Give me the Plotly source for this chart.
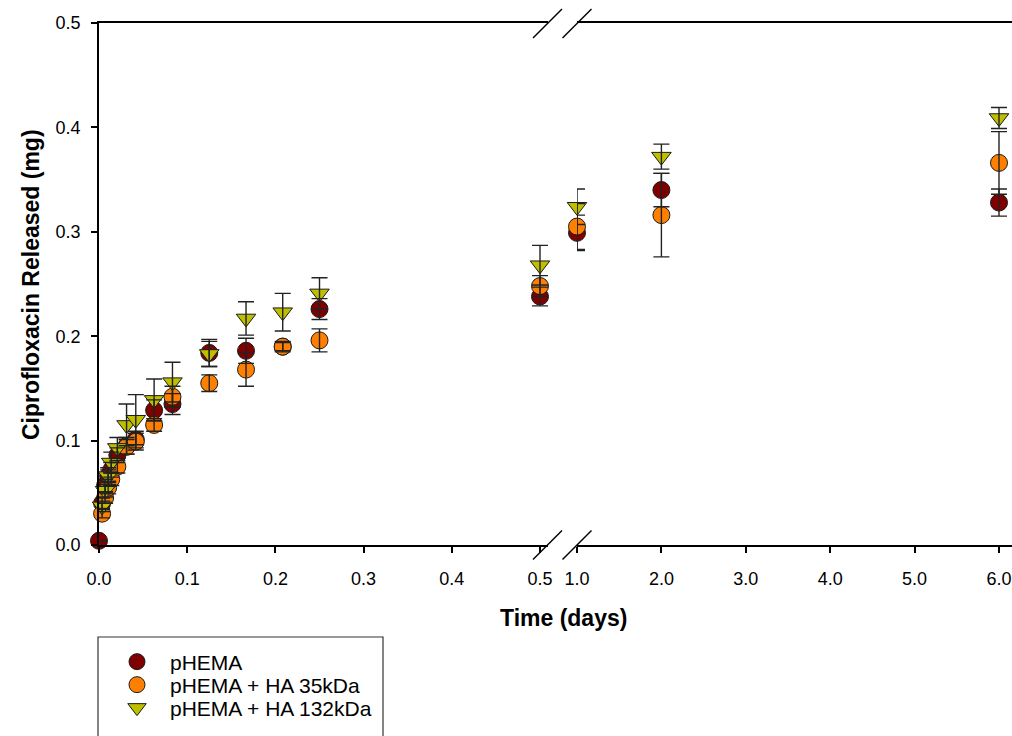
import numpy as np
import plotly.graph_objects as go

# Sampling times (days)
time_days = [0.0, 0.0035, 0.0069, 0.0104, 0.0139, 0.0208, 0.03125, 0.0417, 0.0625,
             0.0833, 0.125, 0.1667, 0.2083, 0.25, 0.5, 1.0, 2.0, 6.0]

# Cumulative ciprofloxacin released (mg) and standard deviations
phema = [0.004, 0.040, 0.057, 0.066, 0.072, 0.086, 0.095, 0.101, 0.129,
         0.135, 0.184, 0.186, 0.190, 0.226, 0.238, 0.299, 0.340, 0.328]
phema_sd = [0.000, 0.005, 0.006, 0.006, 0.007, 0.007, 0.008, 0.008, 0.010,
            0.010, 0.013, 0.012, 0.005, 0.010, 0.009, 0.017, 0.016, 0.013]

ha35 = [None, 0.030, 0.045, 0.055, 0.063, 0.075, 0.094, 0.099, 0.115,
        0.142, 0.155, 0.168, 0.190, 0.196, 0.248, 0.305, 0.316, 0.366]
ha35_sd = [None, 0.004, 0.005, 0.006, 0.006, 0.006, 0.007, 0.008, 0.006,
           0.010, 0.008, 0.016, 0.004, 0.011, 0.010, 0.022, 0.040, 0.030]

ha132 = [None, 0.037, 0.052, 0.066, 0.079, 0.093, 0.115, 0.120, 0.139,
         0.156, 0.183, 0.217, 0.223, 0.241, 0.268, 0.324, 0.372, 0.409]
ha132_sd = [None, 0.005, 0.006, 0.008, 0.010, 0.010, 0.020, 0.024, 0.020,
            0.019, 0.012, 0.016, 0.018, 0.015, 0.019, 0.017, 0.012, 0.010]

series_names = ["pHEMA", "pHEMA + HA 35kDa", "pHEMA + HA 132kDa"]
series_colors = ["#800000", "#FF8000", "#BFBF00"]
series_symbols = ["circle", "circle", "triangle-down"]

y_ticks = [0.0, 0.1, 0.2, 0.3, 0.4, 0.5]
x_ticks_left = [0.0, 0.1, 0.2, 0.3, 0.4, 0.5]
x_ticks_right = [1.0, 2.0, 3.0, 4.0, 5.0, 6.0]

FONT = "Liberation Sans, Arial, sans-serif"
W, H = 1012, 736
ML, MT, MB = 99, 23, 191
PW, PH = W - ML, H - MT - MB


def px_x(p):
    return (p - ML) / PW


def px_y(p):
    return (H - MB - p) / PH


t = np.array(time_days, dtype=float)
left_mask = t <= 0.5
right_mask = t >= 1.0

fig = go.Figure()

data_sets = [(phema, phema_sd), (ha35, ha35_sd), (ha132, ha132_sd)]
legend_ids = ["legend", "legend2", "legend3"]

# markers first, then error bars so the bars sit on top of the symbols
for layer in ("markers", "errors"):
    for i, (vals, sds) in enumerate(data_sets):
        v = np.array([np.nan if a is None else a for a in vals], dtype=float)
        s = np.array([np.nan if a is None else a for a in sds], dtype=float)
        for mask, xa in ((left_mask, "x"), (right_mask, "x2")):
            ok = mask & ~np.isnan(v)
            common = dict(x=t[ok], y=v[ok], xaxis=xa, yaxis="y", mode="markers",
                          cliponaxis=False, hoverinfo="skip")
            if layer == "markers":
                fig.add_trace(go.Scatter(
                    **common,
                    name=series_names[i], legendgroup=series_names[i],
                    legend=legend_ids[i],
                    showlegend=(xa == "x"),
                    marker=dict(symbol=series_symbols[i], size=17,
                                color=series_colors[i],
                                line=dict(color="#1a1a1a", width=1)),
                ))
            else:
                fig.add_trace(go.Scatter(
                    **common, showlegend=False,
                    marker=dict(size=1, opacity=0),
                    error_y=dict(type="data", array=s[ok], visible=True,
                                 color="#222222", thickness=1.4, width=8),
                ))

axis_common = dict(showline=True, linecolor="black", linewidth=1.5,
                   ticks="outside", ticklen=6, tickwidth=1.5, tickcolor="black",
                   showgrid=False, zeroline=False,
                   tickfont=dict(family=FONT, size=18, color="black"),
                   tickformat=".1f", automargin=False)

left_end = px_x(548)
right_start = px_x(577)


def legend_row(py):
    return dict(x=px_x(104), y=px_y(py), xanchor="left", yanchor="middle",
                bgcolor="rgba(0,0,0,0)", borderwidth=0, itemwidth=56,
                font=dict(family=FONT, size=21, color="black"),
                itemsizing="trace")


fig.update_layout(
    width=W, height=H, template="none",
    paper_bgcolor="white", plot_bgcolor="white",
    margin=dict(l=ML, r=0, t=MT, b=MB, pad=0),
    font=dict(family=FONT, size=18, color="black"),
    xaxis=dict(**axis_common, mirror=True, domain=[0, left_end],
               range=[0, 0.5 * (548 - ML) / (540 - ML)],
               tickvals=x_ticks_left, anchor="y", ticklabelstandoff=11),
    xaxis2=dict(**axis_common, mirror=True, domain=[right_start, 1],
                range=[1.0, 1.0 + (W - 577) / 84.4],
                tickvals=x_ticks_right, anchor="y", ticklabelstandoff=11),
    yaxis=dict(**axis_common, mirror=False, range=[0, 0.5], tickvals=y_ticks,
               domain=[0, 1], anchor="x", ticklabelstandoff=7),
    showlegend=True,
    legend=legend_row(662),
    legend2=legend_row(685),
    legend3=legend_row(708),
)

shapes = []
# axis break marks at the top and bottom of the frame
for py in (545, 23.5):
    for cx in (547.5, 577):
        shapes.append(dict(type="line", xref="paper", yref="paper",
                           x0=px_x(cx - 14.5), y0=px_y(py + 14.5),
                           x1=px_x(cx + 14.5), y1=px_y(py - 14.5),
                           line=dict(color="black", width=1.5)))
# legend frame
shapes.append(dict(type="rect", xref="paper", yref="paper",
                   x0=px_x(98), y0=px_y(637), x1=px_x(383), y1=px_y(745),
                   line=dict(color="#333333", width=1.2),
                   fillcolor="rgba(0,0,0,0)"))
fig.update_layout(shapes=shapes)

fig.add_annotation(text="<b>Time (days)</b>", xref="paper", yref="paper",
                   x=px_x(563), y=px_y(618), showarrow=False,
                   xanchor="center", yanchor="middle",
                   font=dict(family=FONT, size=23, color="black"))
fig.add_annotation(text="<b>Ciprofloxacin Released (mg)</b>", xref="paper",
                   yref="paper", x=px_x(31), y=px_y(285), showarrow=False,
                   textangle=-90, xanchor="center", yanchor="middle",
                   font=dict(family=FONT, size=23, color="black"))

fig.write_html("out.html")
